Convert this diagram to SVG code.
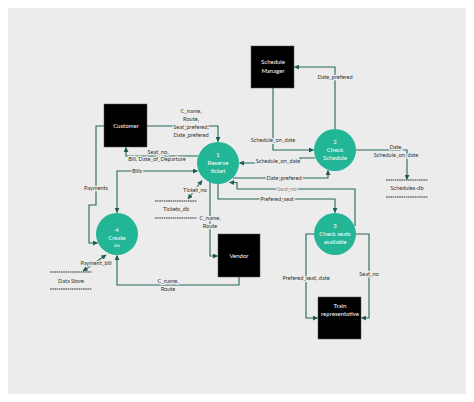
<svg xmlns="http://www.w3.org/2000/svg" width="474" height="402" viewBox="0 0 474 402">
<style>
.bg{fill:#ececec}
.box{fill:#000;stroke:#555;stroke-width:0.5}
.proc{fill:#22b596}
.wt{fill:#fff;font-family:Lato,"Open Sans",sans-serif;font-size:6px;text-anchor:middle}
.lbl{fill:#333;font-family:Lato,"Open Sans",sans-serif;font-size:5.6px;text-anchor:middle;stroke:#ececec;stroke-width:2.5px;paint-order:stroke;stroke-linejoin:round}
.ln{fill:none;stroke:#22665b;stroke-width:1.1}
.ds{fill:none;stroke:#333;stroke-width:1;stroke-dasharray:1.6 0.6}
</style>
<defs>
<marker id="ah" viewBox="0 0 6 6" refX="5.5" refY="3" markerWidth="5" markerHeight="5" markerUnits="userSpaceOnUse" orient="auto-start-reverse">
<path d="M0,0 L6,3 L0,6 z" fill="#1e5b51"/>
</marker>
</defs>
<rect x="0" y="0" width="474" height="402" fill="#fff"/>
<rect class="bg" x="8" y="8" width="458" height="386"/>

<g id="connectors">
<path class="ln" d="M147,126 H218 V141.5" marker-end="url(#ah)"/>
<path class="ln" d="M198,156 H126 V147.5" marker-end="url(#ah)"/>
<path class="ln" d="M117,212.5 V171 H197.5" marker-start="url(#ah)" marker-end="url(#ah)"/>
<path class="ln" d="M104,126 H96 V205 H89 V243 H97.5" marker-end="url(#ah)"/>
<path class="ln" d="M83,271 L106,255" marker-start="url(#ah)" marker-end="url(#ah)"/>
<path class="ln" d="M188,199 L202,180.5" marker-start="url(#ah)" marker-end="url(#ah)"/>
<path class="ln" d="M210,182 V256 H217.5" marker-end="url(#ah)"/>
<path class="ln" d="M239,277 V285 H117 V255.5" marker-end="url(#ah)"/>
<path class="ln" d="M273,88 V150 H313.5" marker-end="url(#ah)"/>
<path class="ln" d="M335,129 V67 H294.5" marker-end="url(#ah)"/>
<path class="ln" d="M315,158 H300 V163 H239.5" marker-end="url(#ah)"/>
<path class="ln" d="M233,178 H328 V170.5" marker-end="url(#ah)"/>
<path class="ln" d="M355,226 V189 H237 V182.5 H229.5" marker-end="url(#ah)"/>
<path class="ln" d="M218,184 V199 H335 V212.5" marker-end="url(#ah)"/>
<path class="ln" d="M314,234 H306 V318 H317.5" marker-end="url(#ah)"/>
<path class="ln" d="M356,234 H369 V318 H361.5" marker-end="url(#ah)"/>
<path class="ln" d="M356,150 H407 V179.5" marker-end="url(#ah)"/>
</g>

<g id="labels">
<text class="lbl" x="191" y="113">C_name,</text>
<text class="lbl" x="191" y="121">Route,</text>
<text class="lbl" x="191" y="129">Seat_prefered,</text>
<text class="lbl" x="191" y="137">Date_prefered</text>
<text class="lbl" x="158" y="153.5">Seat_no,</text>
<text class="lbl" x="157" y="161">Bill, Date_of_Departure</text>
<text class="lbl" x="137" y="173">Bills</text>
<text class="lbl" x="96" y="190">Payments</text>
<text class="lbl" x="96" y="265">Payment_bill</text>
<text class="lbl" x="195" y="192">Ticket_no</text>
<text class="lbl" x="210" y="220">C_name,</text>
<text class="lbl" x="210" y="228">Route</text>
<text class="lbl" x="168" y="283">C_name,</text>
<text class="lbl" x="168" y="291">Route</text>
<text class="lbl" x="273" y="142">Schedule_on_date</text>
<text class="lbl" x="335" y="79">Date_prefered</text>
<text class="lbl" x="278" y="163">Schedule_on_date</text>
<text class="lbl" x="284" y="180">Date_prefered</text>
<text class="lbl" x="287" y="191" style="fill:#888">Seat_no</text>
<text class="lbl" x="277" y="201">Prefered_seat</text>
<text class="lbl" x="306" y="280">Prefered_seat, date</text>
<text class="lbl" x="369" y="276">Seat_no</text>
<text class="lbl" x="396" y="149">Date,</text>
<text class="lbl" x="396" y="157">Schedule_on_date</text>
</g>

<g id="customer">
<rect class="box" x="104" y="104" width="43" height="43"/>
<text class="wt" x="126" y="128">Customer</text>
</g>
<g id="schedule-manager">
<rect class="box" x="251" y="46" width="43" height="42"/>
<text class="wt" x="273" y="64">Schedule</text>
<text class="wt" x="273" y="72.5">Manager</text>
</g>
<g id="vendor">
<rect class="box" x="218" y="234" width="42" height="43"/>
<text class="wt" x="239" y="258">Vendor</text>
</g>
<g id="train-representative">
<rect class="box" x="318" y="297" width="43" height="42"/>
<text class="wt" x="340" y="308">Train</text>
<text class="wt" x="340" y="316">representative</text>
</g>

<g id="p1-reserve-ticket">
<circle class="proc" cx="218" cy="163" r="21"/>
<text class="wt" x="218" y="157">1</text>
<text class="wt" x="218" y="165">Reserve</text>
<text class="wt" x="218" y="173">ticket</text>
</g>
<g id="p2-check-schedule">
<circle class="proc" cx="335" cy="150" r="21"/>
<text class="wt" x="335" y="144">2</text>
<text class="wt" x="335" y="152">Check</text>
<text class="wt" x="335" y="160">Schedule</text>
</g>
<g id="p3-check-seats">
<circle class="proc" cx="335" cy="234" r="21"/>
<text class="wt" x="335" y="228">3</text>
<text class="wt" x="335" y="236">Check seats</text>
<text class="wt" x="335" y="244">available</text>
</g>
<g id="p4-create-bills">
<circle class="proc" cx="117" cy="234" r="21"/>
<text class="wt" x="117" y="232">4</text>
<text class="wt" x="117" y="240">Create</text>
<text class="wt" x="117" y="247" style="font-size:3.5px">bills</text>
</g>

<g id="tickets-db">
<path class="ds" d="M155,201 H197 M155,218 H197"/>
<text class="lbl" x="176" y="211">Tickets_db</text>
</g>
<g id="data-store">
<path class="ds" d="M50,272 H92 M50,289 H92"/>
<text class="lbl" x="71" y="283">Data Store</text>
</g>
<g id="schedules-db">
<path class="ds" d="M386,180 H428 M386,197 H428"/>
<text class="lbl" x="407" y="190">Schedules-db</text>
</g>
</svg>
